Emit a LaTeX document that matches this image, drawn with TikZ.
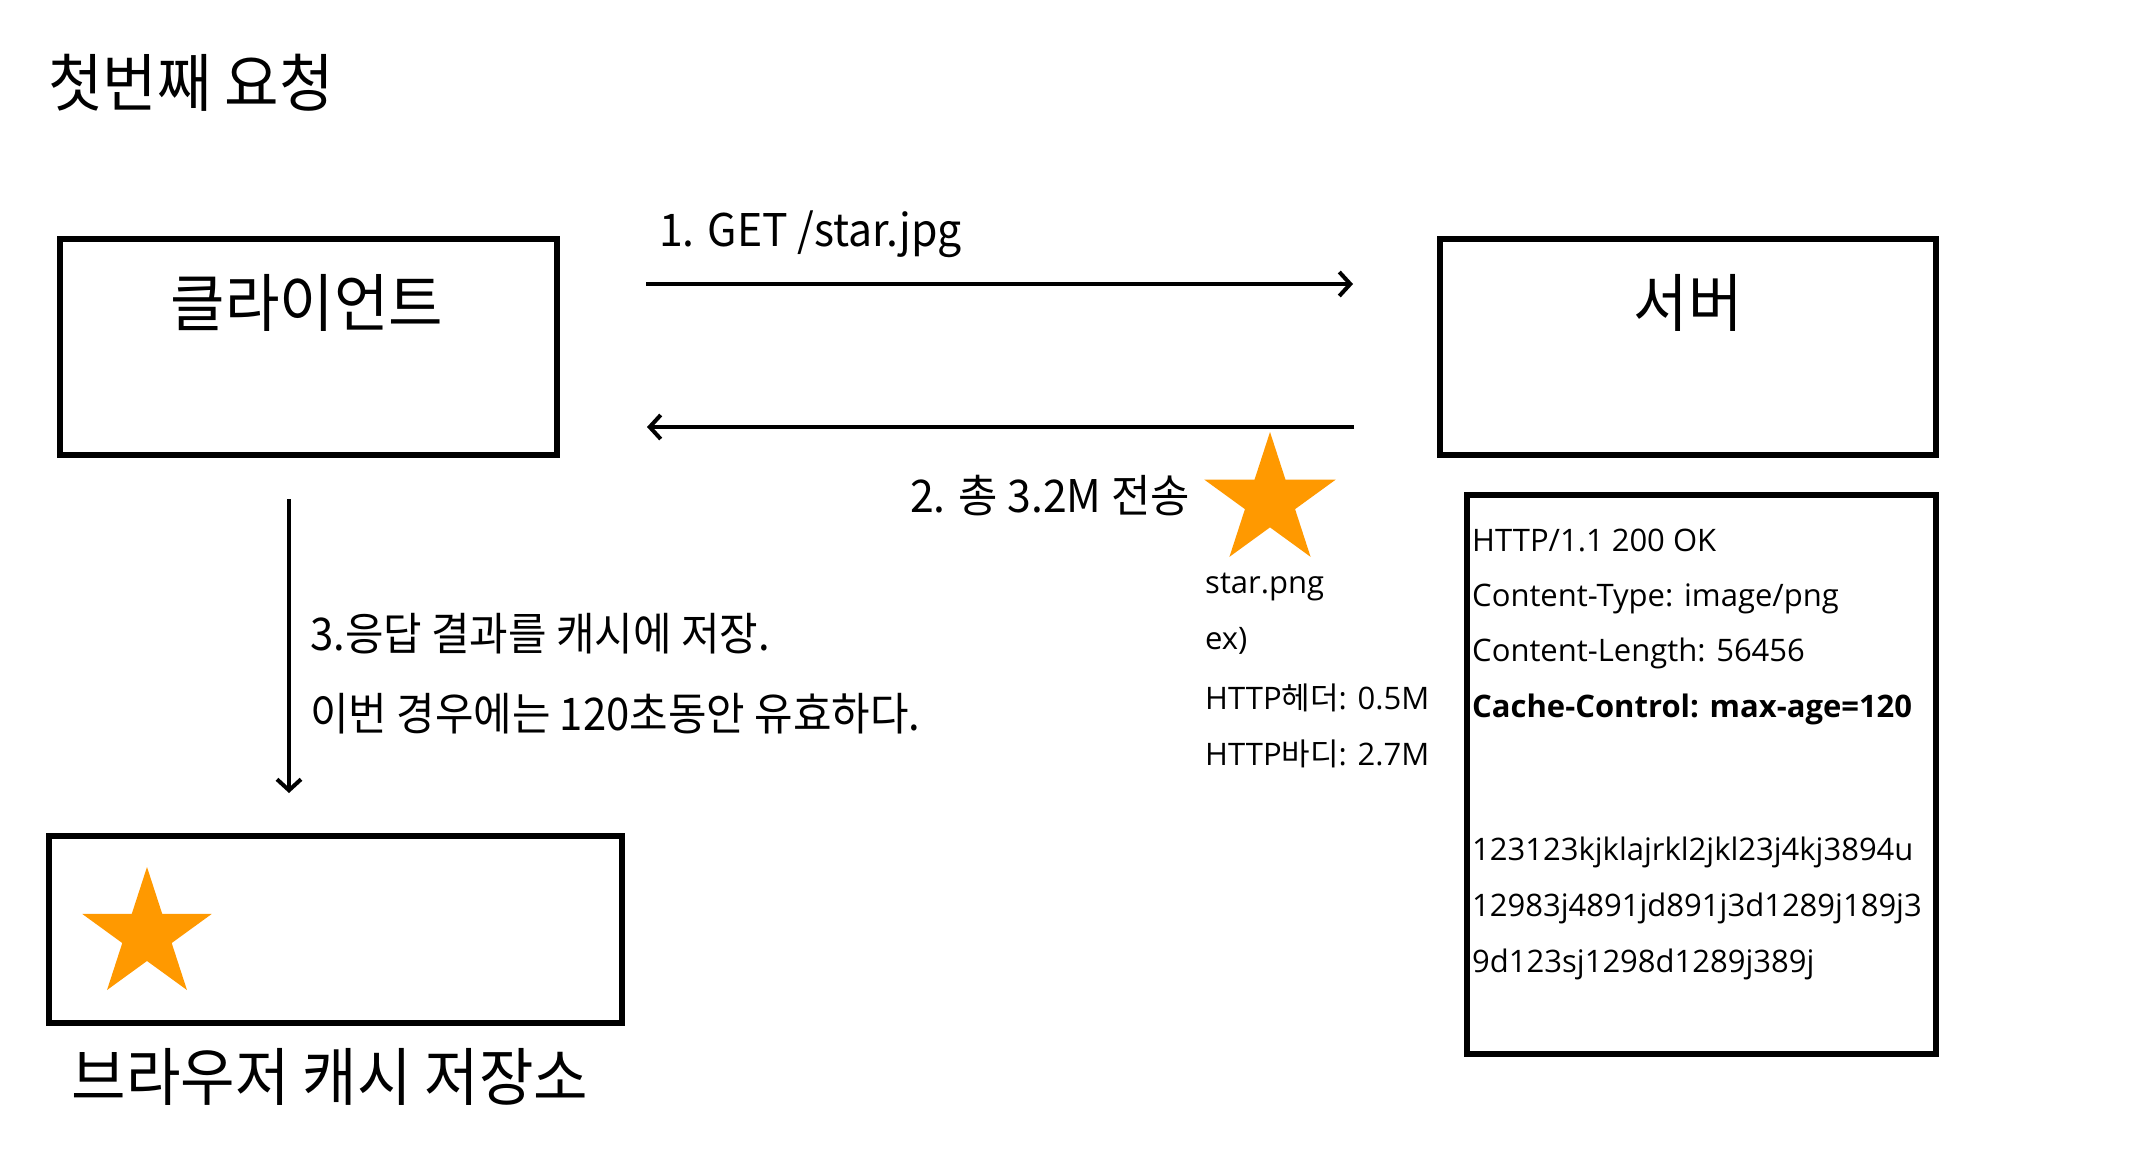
\documentclass[tikz,border=0pt]{standalone}
\usepackage{fontspec}
\usetikzlibrary{arrows.meta,shapes.geometric}
\setmainfont{Open Sans}
\newfontfamily\kofont[FakeStretch=0.94]{Noto Sans CJK KR}
\newfontfamily\komid[FakeStretch=0.95]{Noto Sans CJK KR}
\newfontfamily\kostep[FakeStretch=0.93]{Noto Sans CJK KR}
\newfontfamily\kosmall{Noto Sans CJK KR}
\definecolor{starorange}{RGB}{255,153,0}
\tikzset{
  box/.style={draw=black, line width=6pt, inner sep=0pt},
  bigtext/.style={font=\kofont\fontsize{63}{70}\selectfont, inner sep=0pt},
  midtext/.style={font=\komid\fontsize{45}{52}\selectfont, inner sep=0pt, anchor=west},
  steptext/.style={font=\kostep\fontsize{45}{52}\selectfont, inner sep=0pt, anchor=west},
  smalltext/.style={font=\fontsize{31}{36}\selectfont, inner sep=0pt, anchor=west},
  flow/.style={line width=4pt, -{Straight Barb[length=11pt, width=24pt, line width=4pt]}},
  starnode/.style={star, star points=5, star point ratio=2.618, fill=starorange, draw=none, minimum size=#1, inner sep=0pt},
}
\begin{document}
\begin{tikzpicture}[x=1pt,y=-1pt]
\useasboundingbox[fill=white] (0,0) rectangle (2138,1148);

\node[bigtext, anchor=west] (title) at (48,83) {첫번째 요청};

% boxes
\node[box, minimum width=497pt, minimum height=216pt] (client) at (308.5,347) {};
\node[bigtext] (clientlbl) at (307,303) {클라이언트};
\node[box, minimum width=496pt, minimum height=216pt] (server) at (1688,347) {};
\node[bigtext] (serverlbl) at (1688,303) {서버};

% request / response arrows
\coordinate (reqS) at (646,284);
\coordinate (reqE) at (1353,284);
\draw[flow] (reqS) -- (reqE);
\node[midtext] (reqlbl) at (659,234) {1. GET /star.jpg};

\coordinate (resS) at (1354,427);
\coordinate (resE) at (647,427);
\draw[flow] (resS) -- (resE);
\node[midtext, anchor=east] (reslbl) at (1190,496) {2. 총 3.2M 전송};

\node[starnode=138pt] (star1) at (1270,501) {};
\node[smalltext] (fname) at (1205,587) {star.png};
\node[smalltext] (ex) at (1205,641) {ex)};
\node[smalltext] (hdr) at (1205,698) {HTTP{\kosmall 헤더}: 0.5M};
\node[smalltext] (body) at (1205,754) {HTTP{\kosmall 바디}: 2.7M};

% response box
\node[box, minimum width=469pt, minimum height=559pt] (resp) at (1701.5,774.5) {};
\node[smalltext] (r1) at (1472,540) {HTTP/1.1 200 OK};
\node[smalltext] (r2) at (1472,599) {Content-Type: image/png};
\node[smalltext] (r3) at (1472,653) {Content-Length: 56456};
\node[smalltext] (r4) at (1472,709) {\textbf{Cache-Control: max-age=120}};
\node[smalltext] (r5) at (1472,852) {123123kjklajrkl2jkl23j4kj3894u};
\node[smalltext] (r6) at (1472,908) {12983j4891jd891j3d1289j189j3};
\node[smalltext] (r7) at (1472,964) {9d123sj1298d1289j389j};

% cache step
\coordinate (cacheS) at (289,499);
\coordinate (cacheE) at (289,793);
\draw[flow] (cacheS) -- (cacheE);
\node[steptext] (step3a) at (310,634) {3.응답 결과를 캐시에 저장.};
\node[steptext] (step3b) at (310,714) {이번 경우에는 120초동안 유효하다.};

\node[box, minimum width=573pt, minimum height=187pt] (cache) at (335.5,929.5) {};
\node[starnode=136pt] (star2) at (147,935) {};
\node[bigtext] (cachelbl) at (330,1077) {브라우저 캐시 저장소};
\end{tikzpicture}
\end{document}
